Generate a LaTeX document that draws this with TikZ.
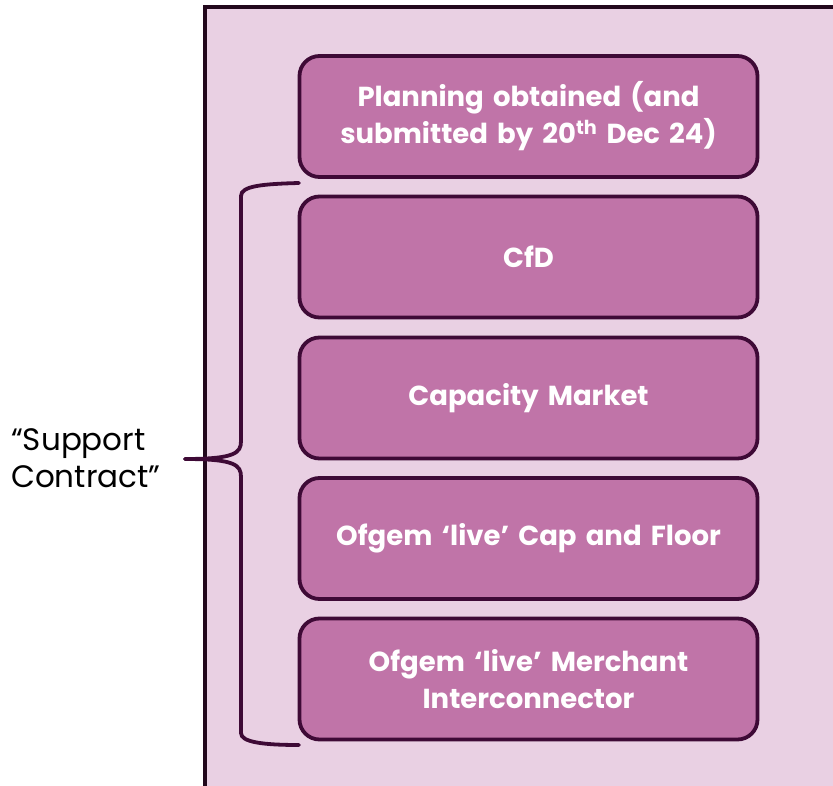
\documentclass[tikz,border=0pt]{standalone}
\usepackage{fontspec}
\setmainfont{Poppins}
\definecolor{framefill}{HTML}{E9D0E3}
\definecolor{framestroke}{HTML}{22081C}
\definecolor{boxfill}{HTML}{C074A8}
\definecolor{boxstroke}{HTML}{3E0A36}
\begin{document}
\begin{tikzpicture}[x=1pt,y=-1pt,
  stagebox/.style={draw=boxstroke, line width=3.8pt, fill=boxfill, rounded corners=20pt,
    minimum width=458pt, minimum height=121pt, text width=450pt, align=center,
    font=\fontsize{27.5}{37}\selectfont\bfseries, text=white, inner sep=0pt},
  bracepath/.style={draw=boxstroke, line width=3.8pt, line cap=round}]
\useasboundingbox (0,0) rectangle (833,786);
\begin{scope}
\clip (0,0) rectangle (833,786);
\draw[fill=framefill, draw=framestroke, line width=4pt] (205,7) rectangle (845,800);
\end{scope}
\node[stagebox] (plan) at (528.5,116.5) {Planning obtained (and\\submitted by 20\textsuperscript{th} Dec 24)};
\node[stagebox] (cfd) at (528.5,257) {CfD};
\node[stagebox] (cm) at (528.5,398) {Capacity Market};
\node[stagebox] (cf) at (528.5,538.5) {Ofgem ‘live’ Cap and Floor};
\node[stagebox] (mi) at (528.5,679) {Ofgem ‘live’ Merchant\\Interconnector};
\coordinate (btop) at (299,183);
\coordinate (btip) at (185,459);
\coordinate (bbot) at (299,745);
\draw[bracepath] (btop) .. controls (262,184) and (241,186) .. (241,196) -- (241,441)
  .. controls (241,453) and (235,459) .. (btip);
\draw[bracepath] (btip) .. controls (235,459) and (241,465) .. (241,477) -- (241,733)
  .. controls (241,742) and (262,745) .. (bbot);
\node[align=left, font=\fontsize{31}{37}\selectfont, text=black, anchor=west, inner sep=0pt] (label) at (11,458) {“Support\\Contract”};
\end{tikzpicture}
\end{document}
